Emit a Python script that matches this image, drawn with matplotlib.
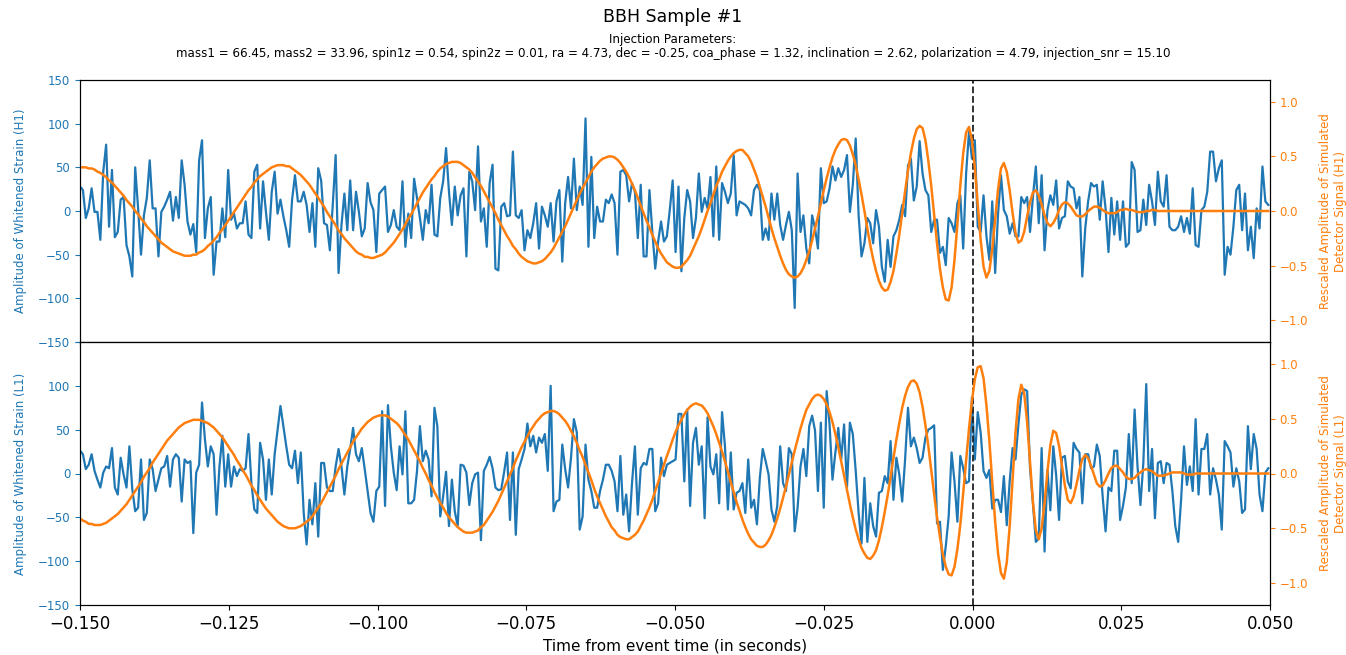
import numpy as np
import matplotlib

matplotlib.use("Agg")
import matplotlib.pyplot as plt

# whitened strain and rescaled injected signal, 2048 Hz, starting at t = -0.15 s
SAMPLE_RATE = 2048
T_START = -0.15

H1_STRAIN = [
    28, 24, -8, 3, 26, -1, -1, -33, 45, 76,
    -18, 47, -30, -24, 13, 16, -39, -52, -75, 50,
    3, -50, -5, 15, 58, 3, 3, -52, -1, 5,
    13, 22, -11, 16, -8, 58, 30, -12, -27, -15,
    -47, 58, 81, -31, 3, 16, -73, -35, -35, 3,
    -30, 47, -10, -3, -20, -14, -14, 11, -27, -31,
    45, 53, -20, 34, -1, -33, 22, 45, -3, 13,
    -6, -22, -41, 13, 41, 11, 11, 22, 7, -24,
    9, -41, 49, 35, -14, -16, -45, 7, 64, -71,
    -16, 20, -22, 35, -22, 22, -1, -29, -20, 32,
    10, 1, -47, 20, 24, 28, -24, -16, 1, -18,
    -22, 34, -41, -3, -31, 37, 15, -8, -33, 1,
    -14, 30, -27, -29, 15, 34, 72, 22, -16, 28,
    -5, 18, 26, -52, 45, 34, 1, 74, -12, 3,
    -41, 32, 53, -66, -68, 5, 9, -6, -5, 68,
    -5, -8, 1, -45, -22, -31, -14, 9, -43, 5,
    -5, -18, 9, -35, 11, 24, -58, 9, 39, 3,
    60, 1, 28, 7, 106, -41, 62, -31, 5, -12,
    -12, 13, 9, 19, 9, -50, 45, 47, 41, 11,
    32, 22, -31, 30, -52, -52, 24, -24, -66, -35,
    -12, -35, -29, 1, 35, -47, 28, -69, -8, 24,
    11, -31, -8, 43, -1, 15, 3, 39, -29, 51,
    -33, 32, 22, 9, 20, 64, -5, 11, 9, 7,
    3, -5, 24, 30, 24, -33, -20, -33, 20, -10,
    20, -16, -33, -16, -1, -22, -111, 43, -24, -5,
    -43, -60, -5, -20, -43, 49, 9, 11, 26, 51,
    35, 49, 39, 47, 64, -1, 30, 83, -5, -52,
    -37, -8, -14, -37, 1, -18, -64, -81, -33, -64,
    -29, -22, -10, 7, -6, 52, 60, 12, 28, 80,
    43, 24, 18, -24, -10, -10, -48, -41, -62, -8,
    -14, -24, 9, 18, -43, 43, 91, 60, 81, -18,
    -24, 18, -29, -56, 11, -71, -3, 41, 1, -6,
    -26, -14, -29, -29, 16, 9, 16, -24, 16, 51,
    -14, 41, -45, 1, 18, 7, 35, -20, -8, -6,
    34, 28, 26, 3, 16, -75, -20, 11, 32, 28,
    30, -10, 34, 3, -47, 15, -27, 11, -33, 11,
    -41, -37, 56, 47, -24, -22, 13, -16, 30, 11,
    -16, 45, 11, 5, 41, -18, -22, -22, -18, -6,
    -24, -8, -26, 26, -39, -41, 1, 5, 22, 68,
    68, 34, 49, 58, -73, -41, -50, -18, 24, 30,
    -22, 20, -45, -18, -54, 3, -20, 51, 11, 7,
]

H1_SIGNAL = [
    0.40, 0.40, 0.40, 0.39, 0.39, 0.38, 0.36, 0.35, 0.33, 0.31,
    0.28, 0.26, 0.23, 0.20, 0.17, 0.14, 0.10, 0.07, 0.04, 0.00,
    -0.03, -0.07, -0.10, -0.14, -0.17, -0.20, -0.23, -0.26, -0.29, -0.31,
    -0.33, -0.35, -0.37, -0.38, -0.39, -0.40, -0.41, -0.41, -0.41, -0.40,
    -0.40, -0.38, -0.37, -0.35, -0.32, -0.30, -0.27, -0.24, -0.20, -0.17,
    -0.13, -0.09, -0.05, -0.01, 0.03, 0.07, 0.11, 0.15, 0.19, 0.22,
    0.26, 0.29, 0.32, 0.34, 0.36, 0.38, 0.40, 0.41, 0.42, 0.42,
    0.42, 0.41, 0.41, 0.39, 0.37, 0.35, 0.33, 0.30, 0.27, 0.24,
    0.20, 0.16, 0.12, 0.08, 0.04, -0.01, -0.05, -0.09, -0.13, -0.18,
    -0.21, -0.25, -0.28, -0.31, -0.34, -0.37, -0.39, -0.40, -0.42, -0.42,
    -0.43, -0.43, -0.42, -0.41, -0.40, -0.38, -0.35, -0.32, -0.29, -0.25,
    -0.21, -0.17, -0.12, -0.07, -0.03, 0.02, 0.07, 0.12, 0.17, 0.21,
    0.25, 0.29, 0.32, 0.36, 0.39, 0.41, 0.43, 0.44, 0.45, 0.45,
    0.45, 0.44, 0.42, 0.40, 0.38, 0.35, 0.31, 0.27, 0.23, 0.18,
    0.13, 0.08, 0.03, -0.02, -0.08, -0.13, -0.18, -0.23, -0.27, -0.32,
    -0.35, -0.39, -0.42, -0.44, -0.46, -0.47, -0.48, -0.48, -0.47, -0.46,
    -0.44, -0.41, -0.38, -0.34, -0.29, -0.24, -0.19, -0.14, -0.08, -0.02,
    0.04, 0.10, 0.16, 0.21, 0.26, 0.31, 0.36, 0.40, 0.43, 0.46,
    0.48, 0.49, 0.50, 0.50, 0.49, 0.47, 0.44, 0.40, 0.36, 0.31,
    0.25, 0.19, 0.12, 0.05, -0.02, -0.09, -0.15, -0.22, -0.28, -0.34,
    -0.39, -0.43, -0.47, -0.49, -0.51, -0.52, -0.52, -0.51, -0.48, -0.45,
    -0.41, -0.35, -0.29, -0.23, -0.16, -0.08, 0.00, 0.07, 0.15, 0.23,
    0.29, 0.36, 0.41, 0.46, 0.50, 0.53, 0.55, 0.56, 0.56, 0.53,
    0.50, 0.45, 0.38, 0.31, 0.22, 0.13, 0.04, -0.06, -0.16, -0.25,
    -0.33, -0.41, -0.48, -0.54, -0.58, -0.60, -0.61, -0.60, -0.57, -0.52,
    -0.45, -0.37, -0.27, -0.16, -0.05, 0.07, 0.19, 0.30, 0.40, 0.49,
    0.56, 0.61, 0.65, 0.66, 0.65, 0.60, 0.52, 0.42, 0.29, 0.15,
    0.00, -0.16, -0.31, -0.44, -0.55, -0.64, -0.70, -0.73, -0.72, -0.65,
    -0.55, -0.39, -0.22, -0.02, 0.18, 0.37, 0.53, 0.66, 0.75, 0.78,
    0.76, 0.65, 0.46, 0.23, -0.04, -0.30, -0.53, -0.70, -0.81, -0.82,
    -0.70, -0.45, -0.12, 0.23, 0.53, 0.72, 0.77, 0.65, 0.40, 0.06,
    -0.26, -0.51, -0.61, -0.55, -0.35, -0.07, 0.20, 0.39, 0.44, 0.36,
    0.19, -0.02, -0.20, -0.29, -0.27, -0.19, -0.05, 0.08, 0.17, 0.19,
    0.14, 0.06, -0.04, -0.11, -0.14, -0.11, -0.06, 0.01, 0.06, 0.08,
    0.07, 0.04, 0.00, -0.04, -0.05, -0.05, -0.03, 0.00, 0.02, 0.04,
    0.04, 0.03, 0.01, -0.01, -0.02, -0.02, -0.02, -0.01, 0.01, 0.01,
    0.02, 0.01, 0.01, 0.00, -0.01, -0.01, -0.01, 0.00, 0.00, 0.01,
    0.01, 0.00, 0.00, 0.00, 0.00, 0.00, 0.00, 0.00, 0.00, 0.00,
    0.00, 0.00, 0.00, 0.00, 0.00, 0.00, 0.00, 0.00, 0.00, 0.00,
    0.00, 0.00, 0.00, 0.00, 0.00, 0.00, 0.00, 0.00, 0.00, 0.00,
    0.00, 0.00, 0.00, 0.00, 0.00, 0.00, 0.00, 0.00, 0.00, 0.00,
]

L1_STRAIN = [
    26, 22, 5, 10, 22, 3, -7, -16, 1, 8,
    6, 29, -16, -24, 18, -1, -16, 31, -18, -43,
    -39, 16, -53, -45, 16, 5, -20, -7, 6, 8,
    20, -15, 16, 22, 18, -32, 16, 12, 14, -68,
    1, 10, 81, 39, 8, 31, 22, -47, 8, 43,
    -15, 22, -15, 8, -3, 5, 3, 6, 45, -11,
    -41, -45, 35, 16, -30, 16, -24, 22, 50, 77,
    54, 31, 10, 6, 26, -11, 24, -45, -81, -30,
    -58, -11, -72, 12, 12, -16, -20, -20, 8, 28,
    8, -24, 8, 28, 52, 22, 14, 29, 5, -20,
    -45, -55, -20, -15, 71, -37, 78, 31, 1, -19,
    31, -1, 71, -34, -34, -30, 3, 54, 14, 26,
    16, -26, 75, 54, -49, -26, 2, -60, -7, -43,
    -60, 10, 9, 1, -36, -11, -1, 1, -76, 3,
    10, 19, 6, -16, -19, -18, 2, 24, -53, 24,
    -70, 5, 16, 28, 57, 31, 43, 24, 41, 35,
    45, 3, 100, -43, -32, -30, 33, 5, -16, 18,
    62, 47, -64, -49, 33, -7, -20, -39, -39, -20,
    -7, 10, 10, 3, -9, -43, 20, -47, -24, -66,
    -11, 31, -47, 6, 12, 10, 28, 28, -43, -34,
    18, -3, 10, 12, 14, 16, 68, 68, -9, 73,
    -37, 35, 52, 10, 31, -51, 64, 8, -1, 22,
    -34, 70, 31, -41, 24, -41, -22, -20, -11, -45,
    16, -39, -30, -58, -5, 28, 14, -1, -41, -55,
    -37, 31, -11, -20, 29, 22, -66, -39, 8, 28,
    -3, 54, 66, 49, -20, 58, -39, 94, 56, -7,
    24, 52, 16, 56, -16, 58, 45, 3, -45, -80,
    -5, -78, -34, -60, -72, -22, -20, -3, -11, 37,
    -30, 18, -1, -32, 16, 75, 31, 41, 29, 12,
    18, 41, 50, 52, 55, -57, -55, -110, -83, -49,
    24, -9, -55, 20, 6, -11, -9, 87, 16, 70,
    47, 3, -5, 4, -40, -30, -30, -44, -3, -59,
    -9, 29, 16, 56, 90, 96, 94, 6, -34, -78,
    -74, 29, -89, 4, -42, 31, -2, -53, 18, 20,
    -9, -17, 35, 28, 24, -34, 22, 22, 6, 8,
    33, 20, -26, -66, -16, -20, 26, 26, -53, -37,
    -16, 45, -11, 73, 8, -36, 12, 102, -20, 28,
    -51, 12, 14, -11, 12, 10, -20, -60, -78, -30,
    31, -13, 8, -20, 62, -24, 28, 28, 45, -24,
    6, -7, -24, -64, 37, 31, 24, -15, 6, -9,
    -45, -41, 54, 5, 45, 28, -24, -43, 1, 6,
]

L1_SIGNAL = [
    -0.41, -0.43, -0.44, -0.46, -0.46, -0.47, -0.47, -0.47, -0.46, -0.45,
    -0.43, -0.41, -0.39, -0.37, -0.34, -0.31, -0.28, -0.24, -0.20, -0.16,
    -0.12, -0.08, -0.03, 0.01, 0.05, 0.10, 0.14, 0.18, 0.22, 0.26,
    0.30, 0.33, 0.36, 0.39, 0.42, 0.44, 0.46, 0.47, 0.48, 0.49,
    0.49, 0.49, 0.48, 0.47, 0.46, 0.44, 0.42, 0.39, 0.36, 0.33,
    0.29, 0.25, 0.21, 0.17, 0.12, 0.08, 0.03, -0.01, -0.06, -0.11,
    -0.15, -0.20, -0.24, -0.28, -0.32, -0.35, -0.38, -0.41, -0.44, -0.46,
    -0.48, -0.49, -0.50, -0.50, -0.50, -0.49, -0.48, -0.46, -0.44, -0.42,
    -0.39, -0.35, -0.31, -0.27, -0.22, -0.17, -0.12, -0.07, -0.02, 0.04,
    0.09, 0.14, 0.19, 0.24, 0.29, 0.33, 0.37, 0.41, 0.44, 0.47,
    0.49, 0.51, 0.52, 0.53, 0.53, 0.53, 0.52, 0.50, 0.48, 0.46,
    0.43, 0.39, 0.35, 0.31, 0.26, 0.21, 0.16, 0.11, 0.05, 0.00,
    -0.06, -0.11, -0.17, -0.22, -0.27, -0.31, -0.36, -0.40, -0.43, -0.46,
    -0.49, -0.51, -0.53, -0.54, -0.54, -0.54, -0.53, -0.52, -0.49, -0.47,
    -0.43, -0.39, -0.35, -0.30, -0.25, -0.19, -0.13, -0.07, -0.01, 0.05,
    0.12, 0.18, 0.24, 0.29, 0.34, 0.39, 0.43, 0.47, 0.50, 0.53,
    0.55, 0.56, 0.57, 0.57, 0.56, 0.54, 0.51, 0.48, 0.44, 0.39,
    0.34, 0.28, 0.21, 0.15, 0.08, 0.01, -0.06, -0.14, -0.21, -0.27,
    -0.33, -0.39, -0.44, -0.49, -0.52, -0.56, -0.58, -0.59, -0.60, -0.60,
    -0.58, -0.56, -0.53, -0.48, -0.43, -0.37, -0.31, -0.24, -0.16, -0.08,
    0.00, 0.08, 0.16, 0.23, 0.31, 0.38, 0.44, 0.49, 0.54, 0.58,
    0.61, 0.63, 0.64, 0.63, 0.62, 0.59, 0.55, 0.49, 0.43, 0.36,
    0.28, 0.20, 0.11, 0.02, -0.08, -0.17, -0.26, -0.34, -0.42, -0.49,
    -0.55, -0.60, -0.63, -0.66, -0.67, -0.67, -0.65, -0.61, -0.56, -0.49,
    -0.41, -0.32, -0.22, -0.12, -0.01, 0.10, 0.21, 0.31, 0.41, 0.50,
    0.58, 0.63, 0.68, 0.71, 0.72, 0.71, 0.68, 0.63, 0.56, 0.47,
    0.36, 0.24, 0.11, -0.02, -0.15, -0.28, -0.40, -0.51, -0.60, -0.68,
    -0.73, -0.77, -0.78, -0.75, -0.70, -0.61, -0.49, -0.35, -0.20, -0.03,
    0.14, 0.31, 0.46, 0.60, 0.71, 0.79, 0.84, 0.85, 0.82, 0.74,
    0.61, 0.44, 0.25, 0.03, -0.19, -0.40, -0.58, -0.74, -0.85, -0.92,
    -0.93, -0.85, -0.69, -0.47, -0.18, 0.12, 0.41, 0.66, 0.86, 0.97,
    0.98, 0.87, 0.62, 0.30, -0.08, -0.44, -0.73, -0.91, -0.96, -0.81,
    -0.48, -0.05, 0.37, 0.68, 0.81, 0.73, 0.47, 0.11, -0.26, -0.52,
    -0.60, -0.50, -0.27, 0.02, 0.26, 0.39, 0.37, 0.25, 0.07, -0.11,
    -0.24, -0.27, -0.21, -0.10, 0.03, 0.13, 0.17, 0.14, 0.07, -0.01,
    -0.09, -0.12, -0.11, -0.06, 0.00, 0.05, 0.07, 0.07, 0.04, 0.01,
    -0.03, -0.05, -0.05, -0.04, -0.01, 0.01, 0.03, 0.04, 0.03, 0.02,
    0.00, -0.02, -0.02, -0.02, -0.01, 0.00, 0.01, 0.01, 0.01, 0.01,
    0.00, -0.01, -0.01, -0.01, 0.00, 0.00, 0.00, 0.00, 0.00, 0.00,
    0.00, 0.00, 0.00, 0.00, 0.00, 0.00, 0.00, 0.00, 0.00, 0.00,
    0.00, 0.00, 0.00, 0.00, 0.00, 0.00, 0.00, 0.00, 0.00, 0.00,
]

STRAIN_TICKS = [-150, -100, -50, 0, 50, 100, 150]
SIGNAL_TICKS = [-1.0, -0.5, 0.0, 0.5, 1.0]
TIME_TICKS = [-0.150, -0.125, -0.100, -0.075, -0.050, -0.025, 0.000, 0.025, 0.050]

TITLE = "BBH Sample #1"
PARAM_HEADER = "Injection Parameters:"
PARAM_LINE = ("mass1 = 66.45, mass2 = 33.96, spin1z = 0.54, spin2z = 0.01, ra = 4.73, "
              "dec = -0.25, coa_phase = 1.32, inclination = 2.62, polarization = 4.79, "
              "injection_snr = 15.10")

BLUE = "#1f77b4"
ORANGE = "#ff7f0e"


def draw_panel(ax, strain, signal, detector, is_bottom):
    t = T_START + np.arange(len(strain)) / SAMPLE_RATE
    ax.plot(t, strain, color=BLUE, lw=1.6)
    ax.axvline(0.0, color="#222222", ls="--", lw=1.3)
    ax.set_xlim(-0.15, 0.05)
    ax.set_ylim(-150, 150)
    ax.set_yticks(STRAIN_TICKS)
    labels = [str(v) if v >= 0 else "\u2212" + str(-v) for v in STRAIN_TICKS]
    if is_bottom:
        # the top label of the lower panel sits under the -150 of the upper one
        labels[-1] = ""
    ax.set_yticklabels(labels)
    ax.set_xticks(TIME_TICKS)
    ax.tick_params(axis="y", colors=BLUE, labelsize=8.5)
    ax.tick_params(axis="x", labelsize=12, labelbottom=is_bottom)
    ax.set_ylabel(f"Amplitude of Whitened Strain ({detector})", color=BLUE,
                  fontsize=8.5, labelpad=8)

    tw = ax.twinx()
    tw.plot(t, signal, color=ORANGE, lw=1.8)
    tw.set_ylim(-1.2, 1.2)
    tw.set_yticks(SIGNAL_TICKS)
    tw.tick_params(axis="y", colors=ORANGE, labelsize=8.5)
    tw.set_ylabel(f"Rescaled Amplitude of Simulated\nDetector Signal ({detector})",
                  color=ORANGE, fontsize=8.5, labelpad=8)


fig = plt.figure(figsize=(13.46, 6.55), dpi=100)
ax_top = fig.add_axes([80 / 1346, 313 / 655, 1190 / 1346, 262 / 655])
ax_bot = fig.add_axes([80 / 1346, 50 / 655, 1190 / 1346, 263 / 655])

draw_panel(ax_top, H1_STRAIN, H1_SIGNAL, "H1", False)
draw_panel(ax_bot, L1_STRAIN, L1_SIGNAL, "L1", True)
ax_bot.set_xlabel("Time from event time (in seconds)", fontsize=11)

fig.text(0.5, 1 - 17 / 655, TITLE, ha="center", va="center", fontsize=12.5)
fig.text(0.5, 1 - 40 / 655, PARAM_HEADER, ha="center", va="center", fontsize=8.6)
fig.text(0.5, 1 - 53 / 655, PARAM_LINE, ha="center", va="center", fontsize=8.6)

fig.savefig("out.png", dpi=100)
